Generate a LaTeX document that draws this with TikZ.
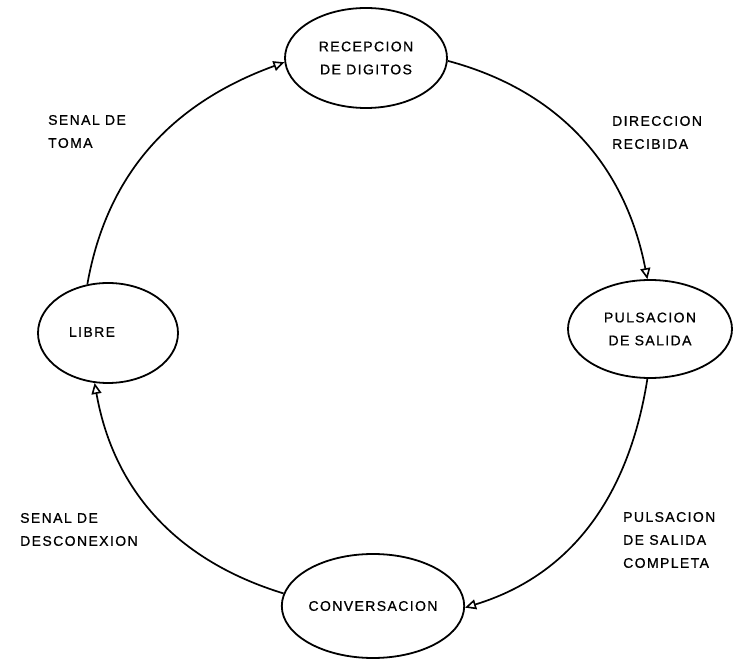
\documentclass[tikz,border=0pt]{standalone}
\usepackage{fontspec}
\setmainfont{Liberation Sans}[LetterSpace=10,FakeBold=0.8]
\usetikzlibrary{shapes.geometric,arrows.meta}
\begin{document}
\begin{tikzpicture}[x=1pt,y=1pt,
  every node/.style={font=\fontsize{14}{23}\selectfont},
  state/.style={draw,ellipse,line width=1.8pt,inner sep=0pt,align=center},
  edgelabel/.style={inner sep=0pt,align=left,anchor=west},
  flow/.style={line width=1.7pt,-{Triangle[open,length=11pt,width=10pt,line width=1.6pt]}}]
\useasboundingbox (0,0) rectangle (734,659);
% the four states of the call cycle
\node[state,minimum width=162pt,minimum height=100pt] (rec) at (366,601) {RECEPCION\\DE DIGITOS};
\node[state,minimum width=164pt,minimum height=98pt] (pul) at (650,330) {PULSACION\\DE SALIDA};
\node[state,minimum width=164pt,minimum height=104pt] (conv) at (373,53) {CONVERSACION};
\node[state,minimum width=140pt,minimum height=100pt] (libre) at (108,326) {};
\node[inner sep=0pt] (libretxt) at (92,327) {LIBRE};
% transitions
\draw[flow] (libre.113) to[out=80,in=200] (rec.183);
\draw[flow] (rec.358) to[out=-15,in=101] (pul.93);
\draw[flow] (pul.267) to[out=-99,in=17] (conv.359);
\draw[flow] (conv.172) to[out=163,in=280] (libre.255);
% transition labels
\node[edgelabel] (ltoma) at (48,527.5) {SENAL DE\\TOMA};
\node[edgelabel] (ldir) at (612,526.5) {DIRECCION\\RECIBIDA};
\node[edgelabel] (lpul) at (623,119) {PULSACION\\DE SALIDA\\COMPLETA};
\node[edgelabel] (ldesc) at (20,129.5) {SENAL DE\\DESCONEXION};
\end{tikzpicture}
\end{document}
